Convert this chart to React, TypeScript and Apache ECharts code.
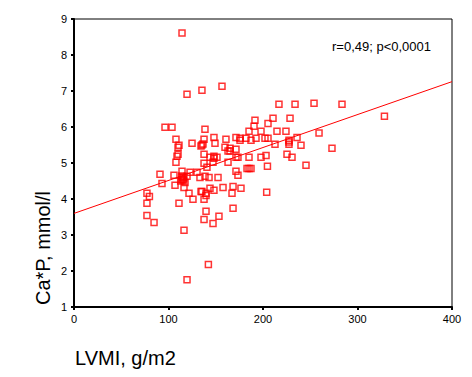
import React, { useEffect, useRef } from "react";
import * as echarts from "echarts";

// LVMI, g/m2 (x) and Ca*P, mmol/l (y) for each patient
const lvmi: number[] = [
  114.3, 119.6, 135.4, 156.6, 96.3, 103.7, 138.6, 107.9, 137.6, 148.1,
  160.8, 171.4, 175.7, 175.7, 182.0, 187.3, 192.6, 202.1, 205.3, 111.1,
  110.1, 110.1, 109.0, 124.9, 134.4, 135.4, 136.5, 149.2, 159.8, 165.1,
  165.1, 163.0, 171.4, 137.6, 143.9, 148.1, 148.1, 151.3, 171.4, 173.5,
  185.2, 197.9, 107.9, 137.6, 140.7, 147.1, 163.0, 183.1, 185.2, 187.3,
  114.3, 122.8, 130.2, 171.4, 105.8, 114.0, 115.0, 116.1, 114.0, 115.0,
  112.9, 116.1, 119.6, 133.3, 138.6, 142.9, 152.4, 173.5, 91.0, 93.1,
  106.9, 117.5, 116.4, 143.9, 148.1, 157.7, 168.3, 176.7, 77.2, 79.8,
  77.2, 77.2, 84.7, 111.1, 121.7, 125.9, 134.4, 135.4, 137.6, 139.7,
  139.7, 167.2, 168.3, 139.7, 137.6, 147.1, 153.4, 116.4, 142.2, 119.6,
  203.9, 216.9, 233.9, 254.0, 283.6, 328.5, 191.5, 210.6, 228.6, 190.5,
  205.3, 185.2, 197.9, 214.8, 224.3, 259.3, 236.0, 227.5, 227.5, 227.5,
  212.7, 240.2, 273.0, 225.4, 230.7, 203.2, 245.5, 204.7
];
const caP: number[] = [
  8.61, 6.91, 7.02, 7.13, 5.99, 5.99, 5.94, 5.66, 5.66, 5.71,
  5.66, 5.71, 5.69, 5.63, 5.69, 5.63, 5.69, 5.69, 5.69, 5.49,
  5.44, 5.24, 5.19, 5.55, 5.47, 5.50, 5.53, 5.55, 5.44, 5.41,
  5.33, 5.33, 5.38, 5.24, 5.16, 5.19, 5.13, 5.16, 5.16, 5.16,
  5.16, 5.16, 5.02, 4.99, 4.88, 5.02, 5.02, 4.85, 4.85, 4.85,
  4.77, 4.74, 4.74, 4.77, 4.66, 4.64, 4.61, 4.58, 4.55, 4.53,
  4.50, 4.53, 4.63, 4.60, 4.63, 4.60, 4.60, 4.66, 4.69, 4.43,
  4.38, 4.46, 4.32, 4.30, 4.24, 4.32, 4.35, 4.30, 4.16, 4.07,
  3.88, 3.54, 3.35, 3.88, 4.16, 3.99, 4.21, 4.21, 3.99, 4.16,
  4.10, 4.16, 3.74, 3.66, 3.43, 3.32, 3.52, 3.13, 2.18, 1.76,
  4.19, 6.63, 6.63, 6.66, 6.63, 6.30, 6.19, 6.24, 6.24, 6.02,
  6.10, 5.88, 5.88, 5.88, 5.88, 5.83, 5.71, 5.63, 5.58, 5.52,
  5.52, 5.49, 5.41, 5.24, 5.16, 5.21, 4.94, 4.91
];

// regression line end points
const fitX: number[] = [0, 400];
const fitY: number[] = [3.6, 7.26];

const xTicks: number[] = [0, 100, 200, 300, 400];
const yTicks: number[] = [1, 2, 3, 4, 5, 6, 7, 8, 9];

const xTitle = "LVMI, g/m2";
const yTitle = "Ca*P, mmol/l";
const note = "r=0,49; p<0,0001";

const FONT = 'Arial, "Liberation Sans", sans-serif';

export default function App() {
  const ref = useRef<HTMLDivElement>(null);
  useEffect(() => {
    if (!ref.current) return;
    const chart = echarts.init(ref.current, undefined, { renderer: "svg" });
    const points = lvmi.map((x, i) => [x, caP[i]]);
    const fit = fitX.map((x, i) => [x, fitY[i]]);
    chart.setOption({
      animation: false,
      backgroundColor: "#ffffff",
      grid: {
        left: 74,
        right: 20,
        top: 19,
        bottom: 70,
        show: true,
        borderColor: "#000",
        borderWidth: 1,
        backgroundColor: "transparent",
      },
      xAxis: {
        type: "value",
        min: xTicks[0],
        max: xTicks[xTicks.length - 1],
        interval: 100,
        axisLine: { show: true, onZero: false, lineStyle: { color: "#000", width: 2 } },
        axisTick: { show: true, length: 3, lineStyle: { color: "#000", width: 2 } },
        axisLabel: { color: "#000", fontSize: 11, fontFamily: FONT, margin: 6 },
        splitLine: { show: false },
      },
      yAxis: {
        type: "value",
        min: yTicks[0],
        max: yTicks[yTicks.length - 1],
        interval: 1,
        axisLine: { show: true, onZero: false, lineStyle: { color: "#000", width: 2 } },
        axisTick: { show: true, length: 3, lineStyle: { color: "#000", width: 2 } },
        axisLabel: { color: "#000", fontSize: 11, fontFamily: FONT, margin: 7 },
        splitLine: { show: false },
      },
      series: [
        {
          type: "line",
          data: fit,
          showSymbol: false,
          symbol: "none",
          lineStyle: { color: "#ff0000", width: 1 },
          silent: true,
          z: 1,
        },
        {
          type: "scatter",
          data: points,
          symbol: "rect",
          symbolSize: 6,
          itemStyle: {
            color: "rgba(0,0,0,0)",
            borderColor: "#ff0000",
            borderWidth: 1.5,
          },
          z: 2,
        },
      ],
      graphic: [
        {
          type: "text",
          x: 332,
          y: 46,
          style: {
            text: note,
            fontSize: 13,
            fontFamily: FONT,
            fill: "#000",
            verticalAlign: "middle",
            align: "left",
          },
        },
        {
          type: "text",
          x: 75,
          y: 358,
          style: {
            text: xTitle,
            fontSize: 20,
            fontFamily: FONT,
            fill: "#000",
            verticalAlign: "middle",
            align: "left",
          },
        },
        {
          type: "text",
          x: 43,
          y: 248,
          rotation: Math.PI / 2,
          style: {
            text: yTitle,
            fontSize: 20,
            fontFamily: FONT,
            fill: "#000",
            verticalAlign: "middle",
            align: "center",
          },
        },
      ],
    });
    return () => chart.dispose();
  }, []);
  return (
    <div
      ref={ref}
      style={{ position: "fixed", left: 0, top: 0, width: 472, height: 377, background: "#fff" }}
    />
  );
}
